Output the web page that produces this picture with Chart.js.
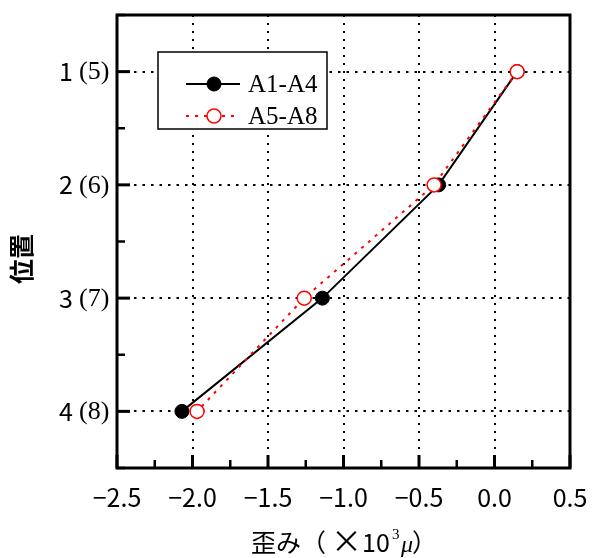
<!DOCTYPE html>
<html>
<head>
<meta charset="utf-8">
<script src="https://cdn.jsdelivr.net/npm/chart.js@4/dist/chart.umd.min.js"></script>
<style>
  html, body { margin: 0; padding: 0; background: #fff; }
  canvas { display: block; }
</style>
</head>
<body>
<canvas id="myChart" width="593" height="558"></canvas>
<script>
// positions 1-4 (A5-A8 are positions 5-8 on the other side)
const positions = [1, 2, 3, 4];
const positionSubLabels = ['(5)', '(6)', '(7)', '(8)'];
const strainA1A4 = [0.15, -0.37, -1.14, -2.07];
const strainA5A8 = [0.15, -0.40, -1.26, -1.97];
const xTickValues = [-2.5, -2.0, -1.5, -1.0, -0.5, 0.0, 0.5];
const xTickLabels = ['\u22122.5', '\u22122.0', '\u22121.5', '\u22121.0', '\u22120.5', '0.0', '0.5'];
const seriesNames = ['A1-A4', 'A5-A8'];

const gothic = '"Noto Sans CJK JP", "Noto Sans", sans-serif';
const serif = '"Liberation Serif", "DejaVu Serif", serif';

const toPoints = (xs) => xs.map((x, i) => ({ x: x, y: positions[i] }));

const isMajor = (v) => Math.abs(v * 2 - Math.round(v * 2)) < 1e-6;
const isInt = (v) => Math.abs(v - Math.round(v)) < 1e-6;

// frame, inward ticks, labels, legend box
const decorations = {
  id: 'decorations',
  afterDraw(chart) {
    const ctx = chart.ctx;
    const a = chart.chartArea;
    const xs = chart.scales.x;
    const ys = chart.scales.y;
    ctx.save();

    // ticks on left and bottom, pointing inward
    ctx.strokeStyle = '#000';
    ctx.lineCap = 'butt';
    xs.ticks.forEach(t => {
      const px = xs.getPixelForValue(t.value);
      const major = isMajor(t.value);
      ctx.lineWidth = major ? 3 : 2.5;
      ctx.beginPath();
      ctx.moveTo(px, a.bottom);
      ctx.lineTo(px, a.bottom - (major ? 13 : 8));
      ctx.stroke();
    });
    ys.ticks.forEach(t => {
      const py = ys.getPixelForValue(t.value);
      const major = isInt(t.value);
      ctx.lineWidth = major ? 3 : 2.5;
      ctx.beginPath();
      ctx.moveTo(a.left, py);
      ctx.lineTo(a.left + (major ? 13 : 8), py);
      ctx.stroke();
    });

    // frame
    ctx.lineWidth = 3;
    ctx.strokeRect(a.left, a.top, a.right - a.left, a.bottom - a.top);

    // x tick labels
    ctx.fillStyle = '#000';
    ctx.font = '25px ' + gothic;
    ctx.textAlign = 'center';
    ctx.textBaseline = 'middle';
    xTickValues.forEach((v, i) => {
      ctx.fillText(xTickLabels[i], xs.getPixelForValue(v), 497);
    });

    // y tick labels: number + (pair number)
    positions.forEach((p, i) => {
      const py = ys.getPixelForValue(p);
      ctx.font = '25px ' + gothic;
      ctx.textAlign = 'right';
      ctx.fillText(String(p), 73, py);
      ctx.font = '26px ' + serif;
      ctx.textAlign = 'left';
      ctx.fillText(positionSubLabels[i], 79, py + 1);
    });

    // y title
    ctx.save();
    ctx.translate(21, 259);
    ctx.rotate(-Math.PI / 2);
    ctx.font = 'bold 25px ' + gothic;
    ctx.textAlign = 'center';
    ctx.fillText('位置', 0, 0);
    ctx.restore();

    // x title: 歪み（×10^3 μ）
    ctx.textAlign = 'left';
    ctx.textBaseline = 'alphabetic';
    const base = 552;
    ctx.font = '25px ' + gothic;
    ctx.fillText('歪み（', 251, base);
    ctx.font = '31px ' + gothic;
    ctx.fillText('×', 331, base);
    ctx.font = '25px ' + gothic;
    ctx.fillText('10', 362, base);
    ctx.font = '15px ' + serif;
    ctx.fillText('3', 392, base - 13);
    ctx.font = 'italic 24px ' + serif;
    ctx.fillText('μ', 401, base);
    ctx.font = '25px ' + gothic;
    ctx.fillText('）', 412, base);

    // legend
    const lx = 158, ly = 52, lw = 169, lh = 77;
    ctx.fillStyle = '#fff';
    ctx.fillRect(lx, ly, lw, lh);
    ctx.lineWidth = 1.5;
    ctx.strokeStyle = '#000';
    ctx.strokeRect(lx, ly, lw, lh);
    chart.data.datasets.forEach((ds, i) => {
      const yy = i === 0 ? 84 : 116;
      ctx.strokeStyle = ds.borderColor;
      ctx.lineWidth = ds.borderWidth;
      ctx.setLineDash(ds.borderDash || []);
      ctx.beginPath();
      ctx.moveTo(186, yy);
      ctx.lineTo(240, yy);
      ctx.stroke();
      ctx.setLineDash([]);
      ctx.beginPath();
      ctx.arc(214, yy, ds.pointRadius, 0, Math.PI * 2);
      ctx.fillStyle = ds.pointBackgroundColor;
      ctx.fill();
      ctx.lineWidth = ds.pointBorderWidth;
      ctx.strokeStyle = ds.pointBorderColor;
      ctx.stroke();
      ctx.fillStyle = '#000';
      ctx.font = '25px ' + serif;
      ctx.textBaseline = 'middle';
      ctx.fillText(ds.label, 248, yy + 1);
    });

    ctx.restore();
  }
};

const ctx = document.getElementById('myChart').getContext('2d');
const chart = new Chart(ctx, {
  type: 'line',
  data: {
    datasets: [{
      label: seriesNames[0],
      data: toPoints(strainA1A4),
      borderColor: '#000',
      borderWidth: 2,
      pointRadius: 7,
      pointBackgroundColor: '#000',
      pointBorderColor: '#000',
      pointBorderWidth: 1,
      order: 2
    }, {
      label: seriesNames[1],
      data: toPoints(strainA5A8),
      borderColor: '#ff0000',
      borderWidth: 2,
      borderDash: [3, 6],
      pointRadius: 7,
      pointBackgroundColor: '#fff',
      pointBorderColor: '#ff0000',
      pointBorderWidth: 1.5,
      order: 1
    }]
  },
  options: {
    responsive: false,
    animation: false,
    devicePixelRatio: 1,
    layout: { padding: { left: 117, top: 15, right: 23, bottom: 90 } },
    plugins: {
      legend: { display: false },
      tooltip: { enabled: false }
    },
    scales: {
      x: {
        type: 'linear',
        min: -2.5,
        max: 0.5,
        ticks: { display: false, stepSize: 0.25 },
        // in v4 border.dash is also used for the grid lines
        border: { display: false, dash: [2, 6] },
        grid: {
          drawTicks: false,
          lineWidth: 2,
          color: (c) => (c.tick && isMajor(c.tick.value) && c.tick.value > -2.5 && c.tick.value < 0.5) ? '#000' : 'rgba(0,0,0,0)'
        },
        title: { display: false }
      },
      y: {
        type: 'linear',
        reverse: true,
        min: 0.5,
        max: 4.5,
        ticks: { display: false, stepSize: 0.5 },
        border: { display: false, dash: [2.5, 6] },
        grid: {
          drawTicks: false,
          lineWidth: 2,
          color: (c) => (c.tick && isInt(c.tick.value)) ? '#000' : 'rgba(0,0,0,0)'
        },
        title: { display: false }
      }
    }
  },
  plugins: [decorations]
});
</script>
</body>
</html>
